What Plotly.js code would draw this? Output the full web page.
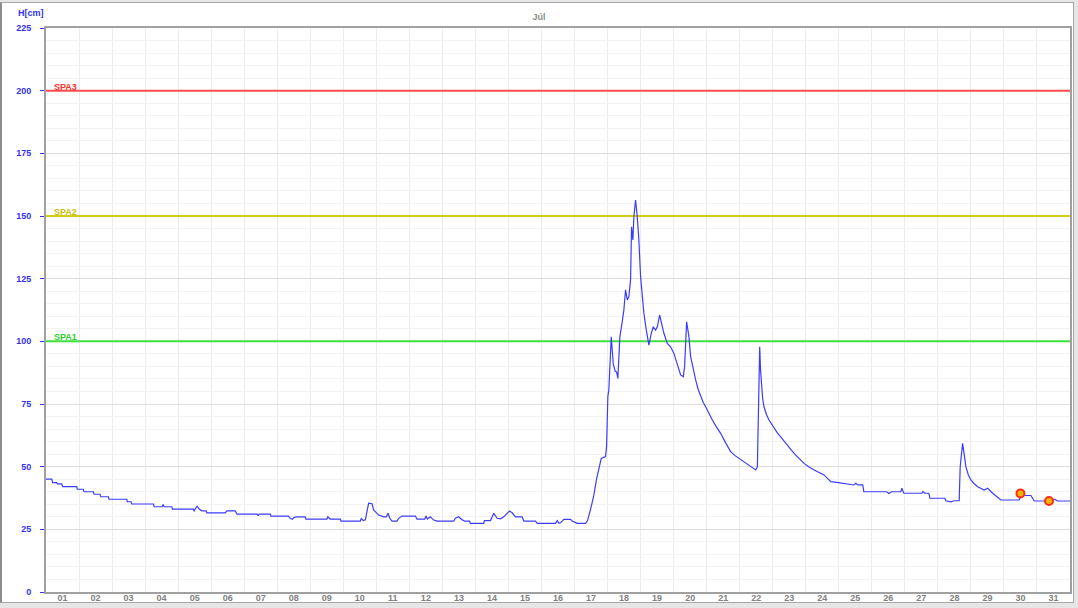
<!DOCTYPE html>
<html><head><meta charset="utf-8">
<script src="https://cdn.plot.ly/plotly-3.0.1.min.js"></script>
<style>
html,body{margin:0;padding:0;background:#e6e6e6;overflow:hidden;}
#panel{position:absolute;left:0px;top:2px;width:1071px;height:599px;background:#fff;border-left:2px solid #8c8c8c;border-top:1px solid #a8a8a8;border-right:1px solid #a8a8a8;border-bottom:1px solid #a8a8a8;}
#chart{position:absolute;left:0;top:0;width:1078px;height:608px;}
</style></head><body>
<div id="panel"></div><div id="chart"></div>
<script>
// ---- data ----
const monthTitle = 'Júl';
const yUnit = 'H[cm]';
const dayLabels = ['01','02','03','04','05','06','07','08','09','10','11','12','13','14','15','16','17','18','19','20','21','22','23','24','25','26','27','28','29','30','31'];
const yTicks = [0,25,50,75,100,125,150,175,200,225];

// time in days of month (1.0 = day 01 00:00), level in cm
const timeDays = [
1.000,1.173,1.203,1.324,1.342,1.476,1.506,1.930,1.948,2.130,2.152,2.433,2.455,2.636,2.658,2.888,2.909,3.445,3.464,3.576,
3.597,4.252,4.273,4.515,4.545,4.576,4.809,4.827,5.464,5.485,5.515,5.576,5.636,5.718,5.848,5.870,6.424,6.476,6.727,6.779,
7.394,7.424,7.455,7.788,7.809,8.342,8.394,8.455,8.515,8.606,8.848,8.870,9.506,9.530,9.606,9.909,9.930,10.515,10.545,10.606,
10.667,10.718,10.767,10.870,10.918,11.070,11.221,11.303,11.355,11.403,11.476,11.627,11.676,11.779,12.182,12.233,12.464,12.506,12.545,12.636,
12.697,12.736,12.839,13.342,13.394,13.494,13.576,13.667,13.818,13.848,14.252,14.273,14.455,14.555,14.658,14.758,14.858,14.961,15.030,15.112,
15.212,15.415,15.464,15.818,15.870,16.424,16.476,16.530,16.576,16.676,16.879,16.930,17.082,17.333,17.394,17.485,17.576,17.667,17.736,17.809,
17.939,17.970,18.009,18.039,18.112,18.173,18.233,18.273,18.312,18.373,18.445,18.494,18.545,18.597,18.645,18.697,18.727,18.767,18.797,18.848,
18.900,18.948,19.000,19.052,19.100,19.173,19.252,19.324,19.385,19.455,19.506,19.576,19.636,19.706,19.809,19.909,20.009,20.112,20.212,20.294,
20.333,20.394,20.464,20.515,20.591,20.667,20.742,20.818,20.894,20.970,21.070,21.173,21.300,21.424,21.575,21.727,21.850,21.979,22.233,22.485,
22.536,22.567,22.606,22.632,22.658,22.697,22.736,22.810,22.888,23.039,23.140,23.242,23.340,23.445,23.570,23.697,23.820,23.948,24.100,24.252,
24.555,24.758,24.939,25.364,25.455,25.515,25.576,25.727,25.758,26.455,26.515,26.606,26.879,26.909,26.970,
27.515,27.545,27.606,27.727,27.758,28.212,28.242,28.394,28.485,28.645,28.676,28.748,28.790,28.848,28.920,29.000,29.100,29.203,29.403,29.506,29.658,29.858,29.909,
30.464,30.515,30.818,30.918,31.455,31.524,31.627,32.000
];
const levelCm = [
45.0,45.0,43.6,43.6,43.1,43.1,42.0,42.0,41.0,41.0,40.0,40.0,39.0,39.0,38.0,38.0,37.0,37.0,36.0,36.0,
35.1,35.1,34.0,34.0,34.9,34.0,34.0,33.1,33.1,32.2,33.1,34.2,33.1,32.4,32.4,31.6,31.6,32.4,32.4,31.1,
31.1,30.4,31.1,31.1,30.3,30.3,29.4,29.0,29.8,30.0,30.0,29.1,29.1,30.0,29.1,29.1,28.3,28.3,29.3,28.5,
28.8,32.7,35.4,35.2,32.7,30.7,30.0,30.0,31.4,29.5,28.3,28.3,29.4,30.3,30.3,29.1,29.1,30.3,29.1,30.0,
29.1,28.7,28.3,28.3,29.4,30.0,29.0,28.3,28.3,27.4,27.4,28.5,28.5,31.4,29.4,29.2,30.0,31.6,32.3,31.6,
30.0,30.0,28.3,28.3,27.4,27.4,28.5,27.4,27.6,29.0,29.0,28.3,27.4,27.4,28.5,33.0,38.0,45.0,48.7,53.3,
54.0,58.0,78.0,80.6,101.8,91.0,88.0,87.8,85.2,101.8,107.8,112.5,120.5,116.5,117.8,124.5,145.7,140.4,149.7,156.4,
149.7,140.4,125.8,117.8,111.2,104.5,98.5,103.2,105.8,104.5,105.8,110.5,107.2,103.2,99.2,97.8,95.2,91.2,86.6,85.9,
89.9,107.8,101.8,93.9,88.6,84.6,80.9,77.9,75.7,73.9,71.0,68.6,65.8,63.3,59.5,56.0,54.5,53.3,51.3,48.7,
50.0,77.9,97.8,88.5,81.9,77.0,73.9,70.8,68.6,65.3,63.5,61.9,60.2,58.6,56.5,54.6,52.9,51.3,49.9,48.7,
46.7,44.0,43.7,42.7,42.7,43.4,42.7,42.7,40.0,40.0,39.3,40.0,40.0,41.4,39.4,
39.4,40.0,39.4,39.4,37.4,37.4,36.4,36.0,36.4,36.4,50.0,59.3,55.5,50.0,46.8,44.7,43.2,42.0,40.7,41.4,39.4,37.4,36.7,
36.7,38.5,38.5,36.3,36.3,37.0,36.3,36.3
];

// highlighted measurements
const markDays = [30.5, 31.364];
const markLevels = [39.3, 36.3];

// flood alert levels
const alertNames = ['SPA1','SPA2','SPA3'];
const alertLevels = [100, 150, 200];
const alertColors = ['#3ee03e','#d6cc18','#ff4c4c'];
const alertTextColors = ['#2fcf2f','#c8bf10','#ff3030'];

const xStart = 1, xEnd = 32;

// ---- chart ----
const FONT = 'Liberation Sans, Arial, sans-serif';
const traces = [];
alertLevels.forEach((lv, i) => {
  traces.push({x:[xStart, xEnd], y:[lv, lv], mode:'lines', type:'scatter',
    line:{color:alertColors[i], width:2}, hoverinfo:'skip', showlegend:false});
});
traces.push({x:timeDays, y:levelCm, mode:'lines', type:'scatter',
  line:{color:'#3c3cff', width:1.2}, showlegend:false});
traces.push({x:markDays, y:markLevels, mode:'markers', type:'scatter',
  marker:{color:'#f2b800', size:8, line:{color:'#ff2a1a', width:2}}, showlegend:false});

const tickPos = dayLabels.map((_, i) => xStart + i + 0.5);
const gridPos = dayLabels.map((_, i) => xStart + i);

const annotations = alertNames.map((n, i) => ({
  x: xStart + 0.18, y: alertLevels[i], xref:'x', yref:'y', xanchor:'left', yanchor:'bottom',
  text:n, showarrow:false, yshift:-3,
  font:{family:FONT, size:9, color:alertTextColors[i], weight:'bold'}
}));
annotations.push({x:-0.0145, y:1.027, xref:'paper', yref:'paper', xanchor:'center', yanchor:'middle',
  text:yUnit, showarrow:false, font:{family:FONT, size:9, color:'#3333ee', weight:'bold'}});

const layout = {
  width:1078, height:608,
  margin:{l:46, r:8, t:28, b:16},
  paper_bgcolor:'rgba(0,0,0,0)', plot_bgcolor:'#ffffff',
  title:{text:monthTitle, xref:'container', x:0.5, y:0.972, yref:'container', yanchor:'middle',
    font:{family:FONT, size:9, color:'#8a8a8a', weight:'bold'}},
  xaxis:{range:[xStart, xEnd], tickmode:'array', tickvals:tickPos, ticktext:dayLabels,
    showgrid:false, zeroline:false, ticks:'', showline:true, linecolor:'#a0a0a0', linewidth:2, mirror:true,
    tickfont:{family:FONT, size:9, color:'#808080', weight:'bold'}, ticklabelstandoff:-4,
    minor:{tickmode:'array', tickvals:gridPos, showgrid:true, gridcolor:'#ececec', gridwidth:1, ticks:''}},
  yaxis:{range:[0,225], tickmode:'array', tickvals:yTicks, showgrid:true, gridcolor:'#dedede', gridwidth:1,
    zeroline:false, ticks:'outside', ticklen:4, tickcolor:'#3333ee', tickwidth:1,
    showline:true, linecolor:'#a0a0a0', linewidth:2, mirror:true,
    tickfont:{family:FONT, size:9, color:'#3333ee', weight:'bold'}, ticklabelstandoff:7,
    minor:{dtick:5, tick0:0, showgrid:true, gridcolor:'#f2f2f2', gridwidth:1, ticks:''}},
  annotations: annotations,
  hovermode:false
};
Plotly.newPlot('chart', traces, layout, {displayModeBar:false, staticPlot:true});
</script>
</body></html>
